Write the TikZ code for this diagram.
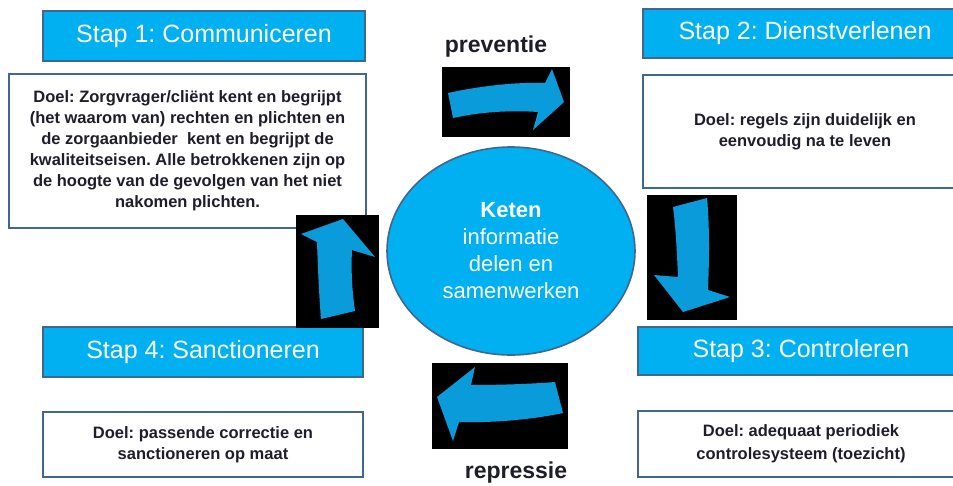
\documentclass[tikz,border=0pt]{standalone}
\usepackage{fontspec}
\setmainfont{Liberation Sans}
\usepackage{tikz}
\usetikzlibrary{shapes}
\definecolor{stapblauw}{HTML}{00B0F0}
\definecolor{randblauw}{HTML}{41668F}
\definecolor{pijlblauw}{HTML}{0A9BDA}
\definecolor{tekstdonker}{HTML}{1E1E2A}
\frenchspacing
\tikzstyle{stap} = [rectangle, draw=randblauw, line width=1.6pt, fill=stapblauw,
    text=white, font=\fontsize{25}{30}\selectfont, inner sep=0pt]
\tikzstyle{doel} = [rectangle, draw=randblauw, line width=1.6pt, fill=white,
    text=tekstdonker, font=\bfseries\fontsize{16.5}{21}\selectfont, align=center, inner sep=0pt]
\tikzstyle{keten} = [ellipse, draw=randblauw, line width=1.6pt, fill=stapblauw,
    text=white, font=\fontsize{22}{27}\selectfont, align=center, inner sep=0pt]
\tikzstyle{pijlvak} = [rectangle, fill=black, inner sep=0pt]
\tikzstyle{pijl} = [fill=pijlblauw]
\tikzstyle{fase} = [anchor=base, text=tekstdonker, font=\bfseries\fontsize{23}{27}\selectfont]

\begin{document}
\begin{tikzpicture}[x=1pt, y=-1pt]
    \useasboundingbox (0,0) rectangle (953,485);
    \clip (0,0) rectangle (953,485);
    % Place nodes
    \node [stap, minimum width=322, minimum height=50] (stap1) at (204,36) {Stap 1: Communiceren};
    \node [doel, minimum width=357, minimum height=154] (doel1) at (187.5,151)
        {Doel: Zorgvrager/cliënt kent en begrijpt\\(het waarom van) rechten en plichten en\\de zorgaanbieder\ \ kent en begrijpt de\\kwaliteitseisen. Alle betrokkenen zijn op\\de hoogte van de gevolgen van het niet\\nakomen plichten.};
    \node [stap, minimum width=324, minimum height=49] (stap2) at (805,33.5) {Stap 2: Dienstverlenen};
    \node [doel, minimum width=324, minimum height=113] (doel2) at (805,131.5)
        {Doel: regels zijn duidelijk en\\eenvoudig na te leven};
    \node [stap, minimum width=326, minimum height=48] (stap3) at (801,351) {Stap 3: Controleren};
    \node [doel, minimum width=326, minimum height=66, font=\bfseries\fontsize{16.5}{23}\selectfont] (doel3) at (801,444)
        {Doel: adequaat periodiek\\controlesysteem (toezicht)};
    \node [stap, minimum width=320, minimum height=50] (stap4) at (203,352) {Stap 4: Sanctioneren};
    \node [doel, minimum width=320, minimum height=65] (doel4) at (203,444.5)
        {Doel: passende correctie en\\sanctioneren op maat};
    \node [keten, minimum width=248, minimum height=208] (keten) at (511,251)
        {\textbf{Keten}\\informatie\\delen en\\samenwerken};
    \node [fase] (preventie) at (496,52) {preventie};
    \node [fase] (repressie) at (516,478) {repressie};
    \node [pijlvak, minimum width=128, minimum height=70] (vak1) at (506,102) {};
    \node [pijlvak, minimum width=90, minimum height=125] (vak2) at (692,257.5) {};
    \node [pijlvak, minimum width=136, minimum height=86] (vak3) at (500,406) {};
    \node [pijlvak, minimum width=83, minimum height=113] (vak4) at (337.5,271.5) {};

    % Draw arrows
    \path [pijl] (448,93) .. controls (480,86) and (515,82) .. (545,83) -- (552,69) -- (564,102)
        -- (533,130) -- (538,112) .. controls (510,110) and (480,112) .. (453,118) -- cycle;
    \path [pijl] (673,207) -- (707,198) .. controls (710,230) and (709,265) .. (708,290) -- (730,297)
        -- (683,312) -- (654,275) -- (678,277) .. controls (677,255) and (676,230) .. (673,207) -- cycle;
    \path [pijl] (555,382) -- (563,413) .. controls (530,420) and (490,423) .. (459,422) -- (453,441)
        -- (437,397) -- (475,367) -- (471,385) .. controls (500,385) and (530,384) .. (555,382) -- cycle;
    \path [pijl] (321,319) -- (355,311) .. controls (352,290) and (351,270) .. (352,250) -- (375,257)
        -- (343,219) -- (301,234) -- (317,242) .. controls (318,270) and (319,295) .. (321,319) -- cycle;
\end{tikzpicture}
\end{document}
